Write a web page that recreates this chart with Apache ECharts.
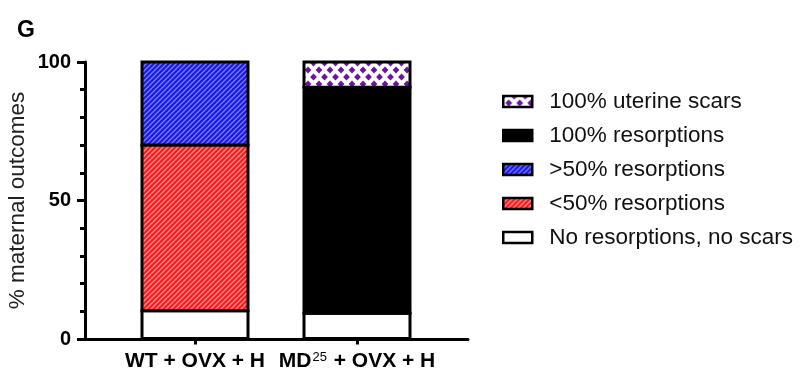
<!DOCTYPE html>
<html>
<head>
<meta charset="utf-8">
<script src="https://cdn.jsdelivr.net/npm/echarts@6/dist/echarts.min.js"></script>
<style>
  html, body { margin: 0; padding: 0; background: #fff; }
  #chart { width: 803px; height: 372px; }
</style>
</head>
<body>
<div id="chart"></div>
<script>
// Groups (MD^25 marks a superscript)
const categories = ['WT + OVX + H', 'MD^25 + OVX + H'];

// Percent of dams per outcome, stacked from the bottom up
const noResorptions = [10, 9.09];
const under50Resorptions = [60, 0];
const over50Resorptions = [30, 0];
const fullResorptions = [0, 81.82];
const uterineScars = [0, 9.09];

const seriesNames = [
  'No resorptions, no scars',
  '<50% resorptions',
  '>50% resorptions',
  '100% resorptions',
  '100% uterine scars'
];
const legendOrder = seriesNames.slice().reverse();
const yTicks = [0, 50, 100];

// Fill patterns
function stripePattern(base, stripe) {
  const s = 5;
  const c = document.createElement('canvas');
  c.width = s; c.height = s;
  const g = c.getContext('2d');
  g.fillStyle = base;
  g.fillRect(0, 0, s, s);
  g.strokeStyle = stripe;
  g.lineWidth = 1.3;
  g.beginPath();
  g.moveTo(-s, s); g.lineTo(s, -s);
  g.moveTo(0, s); g.lineTo(s, 0);
  g.moveTo(0, 2 * s); g.lineTo(2 * s, 0);
  g.stroke();
  return { image: c, repeat: 'repeat' };
}

function diamondPattern(base, dot) {
  const w = 11, h = 14, r = 3.4;
  const c = document.createElement('canvas');
  c.width = w; c.height = h;
  const g = c.getContext('2d');
  g.fillStyle = base;
  g.fillRect(0, 0, w, h);
  g.fillStyle = dot;
  [[0, 0], [w, 0], [0, h], [w, h], [w / 2, h / 2]].forEach(function (p) {
    g.beginPath();
    g.moveTo(p[0], p[1] - r);
    g.lineTo(p[0] + r, p[1]);
    g.lineTo(p[0], p[1] + r);
    g.lineTo(p[0] - r, p[1]);
    g.closePath();
    g.fill();
  });
  return { image: c, repeat: 'repeat' };
}

const fills = [
  '#ffffff',
  stripePattern('#f41c1c', '#ff8c8c'),
  stripePattern('#1a1ae0', '#7a7aff'),
  '#000000',
  diamondPattern('#ffffff', '#6b159e')
];
const values = [noResorptions, under50Resorptions, over50Resorptions, fullResorptions, uterineScars];

// Running stack: each segment is [categoryIndex, bottom, top]
const stackBase = categories.map(function () { return 0; });
const segments = values.map(function (vals) {
  return vals.map(function (v, ci) {
    const bottom = stackBase[ci];
    stackBase[ci] += v;
    return v > 0 ? [ci, bottom, bottom + v] : null;
  }).filter(function (d) { return d !== null; });
});

const BAR_WIDTH = 106;

const chart = echarts.init(document.getElementById('chart'), null, { renderer: 'canvas' });

const series = seriesNames.map(function (name, i) {
  return {
    name: name,
    type: 'custom',
    xAxisIndex: 1,
    yAxisIndex: 1,
    encode: { x: 0, y: [1, 2] },
    data: segments[i],
    itemStyle: { color: fills[i], borderColor: '#000', borderWidth: 2.5 },
    animation: false,
    silent: true,
    renderItem: function (params, api) {
      const ci = api.value(0);
      const pBottom = api.coord([ci, api.value(1)]);
      const pTop = api.coord([ci, api.value(2)]);
      return {
        type: 'rect',
        shape: {
          x: pBottom[0] - BAR_WIDTH / 2,
          y: pTop[1],
          width: BAR_WIDTH,
          height: pBottom[1] - pTop[1]
        },
        style: { fill: fills[i], stroke: '#000', lineWidth: 3 }
      };
    }
  };
});

chart.setOption({
  animation: false,
  backgroundColor: '#fff',
  title: {
    text: 'G',
    left: 17,
    top: 19,
    padding: 0,
    textStyle: { fontFamily: 'Liberation Sans', fontSize: 23, fontWeight: 'bold', color: '#000' }
  },
  legend: {
    orient: 'vertical',
    left: 502,
    top: 90,
    padding: 0,
    itemWidth: 29,
    itemHeight: 11,
    itemGap: 11,
    icon: 'rect',
    data: legendOrder,
    selectedMode: false,
    itemStyle: { borderColor: '#000', borderWidth: 2.5 },
    textStyle: { fontFamily: 'Liberation Sans', fontSize: 22.5, color: '#111', padding: [0, 0, 0, 12] }
  },
  grid: [
    { left: 85, right: 335, top: 62, bottom: 33, containLabel: false },
    { left: 114, right: 365, top: 62, bottom: 33, containLabel: false }
  ],
  xAxis: [
    {
      gridIndex: 0,
      type: 'value',
      min: 0,
      max: 1,
      axisLine: { show: true, lineStyle: { color: '#000', width: 3 } },
      axisTick: { show: false },
      axisLabel: { show: false },
      splitLine: { show: false }
    },
    {
      gridIndex: 1,
      type: 'category',
      data: categories,
      axisLine: { show: false },
      axisTick: { show: true, alignWithLabel: true, length: 6, lineStyle: { color: '#000', width: 3 } },
      axisLabel: {
        interval: 0,
        hideOverlap: false,
        margin: 12,
        color: '#000',
        formatter: function (v) {
          const m = v.split('^');
          if (m.length === 1) return '{b|' + v + '}';
          const sup = m[1].match(/^\d+/)[0];
          return '{b|' + m[0] + '}{s|' + sup + '}{b|' + m[1].slice(sup.length) + '}';
        },
        rich: {
          b: { fontFamily: 'Liberation Sans', fontSize: 21, fontWeight: 'bold', color: '#000', lineHeight: 22 },
          s: { fontFamily: 'Liberation Sans', fontSize: 13, color: '#000', verticalAlign: 'top', lineHeight: 18, padding: [0, 1, 0, 1] }
        }
      },
      splitLine: { show: false }
    }
  ],
  yAxis: [
    {
      gridIndex: 0,
      type: 'value',
      min: yTicks[0],
      max: yTicks[yTicks.length - 1],
      interval: yTicks[1] - yTicks[0],
      name: '% maternal outcomes',
      nameLocation: 'middle',
      nameGap: 56,
      nameTextStyle: { fontFamily: 'Liberation Sans', fontSize: 22.5, color: '#222' },
      axisLine: { show: true, lineStyle: { color: '#000', width: 3 } },
      axisTick: { show: true, length: 8, lineStyle: { color: '#000', width: 3 } },
      minorTick: { show: true, splitNumber: 5, length: 5, lineStyle: { color: '#000', width: 3 } },
      axisLabel: { margin: 14, fontFamily: 'Liberation Sans', fontSize: 20, fontWeight: 'bold', color: '#000' },
      splitLine: { show: false },
      minorSplitLine: { show: false }
    },
    {
      gridIndex: 1,
      type: 'value',
      min: yTicks[0],
      max: yTicks[yTicks.length - 1],
      show: false,
      splitLine: { show: false }
    }
  ],
  series: series
});
</script>
</body>
</html>
